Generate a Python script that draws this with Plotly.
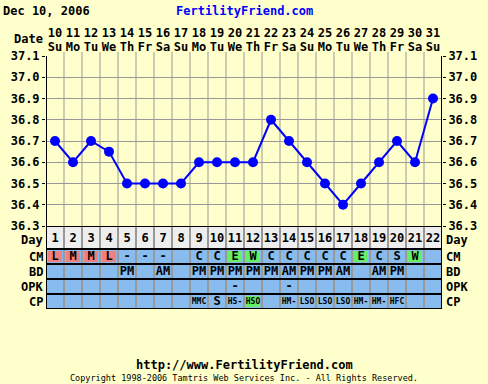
import plotly.graph_objects as go

# ---------------- data ----------------
DAYS = list(range(1, 23))
DATES = ["10", "11", "12", "13", "14", "15", "16", "17", "18", "19", "20",
         "21", "22", "23", "24", "25", "26", "27", "28", "29", "30", "31"]
WEEKDAYS = ["Su", "Mo", "Tu", "We", "Th", "Fr", "Sa", "Su", "Mo", "Tu", "We",
            "Th", "Fr", "Sa", "Su", "Mo", "Tu", "We", "Th", "Fr", "Sa", "Su"]
TEMPS = [36.7, 36.6, 36.7, 36.65, 36.5, 36.5, 36.5, 36.5, 36.6, 36.6, 36.6,
         36.6, 36.8, 36.7, 36.6, 36.5, 36.4, 36.5, 36.6, 36.7, 36.6, 36.9]
CM = ["L", "M", "M", "L", "-", "-", "-", "", "C", "C", "E",
      "W", "C", "C", "C", "C", "C", "E", "C", "S", "W", ""]
BD = ["", "", "", "", "PM", "", "AM", "", "PM", "PM", "PM",
      "PM", "PM", "AM", "PM", "PM", "AM", "", "AM", "PM", "", ""]
OPK = ["", "", "", "", "", "", "", "", "", "", "-",
       "", "", "-", "", "", "", "", "", "", "", ""]
CP = ["", "", "", "", "", "", "", "", "MMC", "S", "HS-",
      "HSO", "", "HM-", "LSO", "LSO", "LSO", "HM-", "HM-", "HFC", "", ""]
ROW_LABELS = ["Day", "CM", "BD", "OPK", "CP"]
TITLE_DATE = "Dec 10, 2006"
SITE = "FertilityFriend.com"
URL = "http://www.FertilityFriend.com"
COPYRIGHT = "Copyright 1998-2006 Tamtris Web Services Inc. - All Rights Reserved."

# ---------------- styles ----------------
BG = "#FFFFCC"
BLUE_CELL = "#88BBEE"
RED_CELL = "#F08080"
GREEN_CELL = "#66EE66"
DAY_CELL = "#EEEEEE"
GRID = "#999999"
FONT = "DejaVu Sans Mono"
HIGHLIGHT = {"L": RED_CELL, "M": RED_CELL, "E": GREEN_CELL, "W": GREEN_CELL, "HSO": GREEN_CELL}

W, H = 488, 384
ML, MR, MT, MB = 46, 46, 56, 75
PH = H - MT - MB  # plot height in px
# table rows (px heights), from top: Day, CM, BD, OPK, CP
ROW_H = [23, 15, 15, 15, 15]
TABLE_H = sum(ROW_H)
row_bounds = []
top = TABLE_H
for h in ROW_H:
    row_bounds.append((top - h, top))
    top -= h
row_centers = [(a + b) / 2 for a, b in row_bounds]


def py(p):
    """pixel y (from top of image) -> paper fraction"""
    return (H - MB - p) / PH


n = len(DAYS)
x_lo, x_hi = DAYS[0] - 0.5, DAYS[-1] + 0.5

fig = go.Figure()

fig.add_trace(go.Scatter(
    x=DAYS, y=TEMPS, mode="lines+markers",
    line=dict(color="#0000FF", width=2),
    marker=dict(color="#0000FF", size=10),
    xaxis="x", yaxis="y", hoverinfo="skip", showlegend=False, cliponaxis=False))
fig.add_trace(go.Scatter(
    x=DAYS, y=TEMPS, mode="markers", marker=dict(opacity=0),
    xaxis="x2", yaxis="y3", hoverinfo="skip", showlegend=False))

tx, ty, tt, ts = [], [], [], []
rows = [[str(d) for d in DAYS], CM, BD, OPK, CP]
for r, vals in enumerate(rows):
    for d, v in zip(DAYS, vals):
        if v:
            tx.append(d)
            ty.append(row_centers[r] - (1.5 if r == 0 else 0))
            tt.append(v)
            ts.append(8 if (r == 4 and len(v) == 3) else 12)
fig.add_trace(go.Scatter(
    x=tx, y=ty, text=tt, mode="text",
    textfont=dict(family=FONT, size=ts, color="black", weight="bold"),
    xaxis="x", yaxis="y2", hoverinfo="skip", showlegend=False, cliponaxis=False))

shapes = []
for r, (a, b) in enumerate(row_bounds):
    shapes.append(dict(type="rect", xref="x", yref="y2", x0=x_lo, x1=x_hi, y0=a, y1=b,
                       fillcolor=DAY_CELL if r == 0 else BLUE_CELL, line=dict(width=0), layer="below"))
inset_x = 2 / 18
for r, vals in [(1, CM), (4, CP)]:
    a, b = row_bounds[r]
    for d, v in zip(DAYS, vals):
        if v in HIGHLIGHT:
            shapes.append(dict(type="rect", xref="x", yref="y2",
                               x0=d - 0.5 + inset_x, x1=d + 0.5 - inset_x, y0=a + 2, y1=b - 2,
                               fillcolor=HIGHLIGHT[v], line=dict(width=0), layer="below"))
for k in range(1, n):
    xb = DAYS[0] - 0.5 + k
    shapes.append(dict(type="line", xref="x", yref="paper", x0=xb, x1=xb, y0=TABLE_H / PH, y1=1,
                       line=dict(color=GRID, width=1), layer="below"))
    shapes.append(dict(type="line", xref="x", yref="y2", x0=xb, x1=xb, y0=0, y1=TABLE_H,
                       line=dict(color=GRID, width=2), layer="below"))
    shapes.append(dict(type="line", xref="x", yref="paper", ysizemode="pixel", yanchor=1,
                       x0=xb, x1=xb, y0=0, y1=4, line=dict(color=GRID, width=1)))
for yv in [0] + [b for _, b in row_bounds]:
    shapes.append(dict(type="line", xref="x", yref="y2", x0=x_lo, x1=x_hi, y0=yv, y1=yv,
                       line=dict(color="black", width=2)))
for xb in (x_lo, x_hi):
    shapes.append(dict(type="line", xref="x", yref="paper", x0=xb, x1=xb, y0=0, y1=1,
                       line=dict(color="black", width=2)))

lab_font = dict(family=FONT, size=12, color="black", weight="bold")
annotations = []
for r, lab in enumerate(ROW_LABELS):
    ysh = -2 if r == 0 else 0
    annotations.append(dict(text=lab, xref="paper", yref="y2", x=0, y=row_centers[r],
                            xanchor="right", yanchor="middle", xshift=-1, yshift=ysh,
                            showarrow=False, font=lab_font))
    annotations.append(dict(text=lab, xref="paper", yref="y2", x=1, y=row_centers[r],
                            xanchor="left", yanchor="middle", xshift=2, yshift=ysh,
                            showarrow=False, font=lab_font))
annotations += [
    dict(text="Date", xref="paper", yref="paper", x=0, y=py(39), xanchor="right", yanchor="middle",
         xshift=-1, showarrow=False, font=lab_font),
    dict(text=TITLE_DATE, xref="paper", yref="paper", x=-ML / (W - ML - MR), y=py(11),
         xanchor="left", yanchor="middle", xshift=1, showarrow=False, font=lab_font),
    dict(text=SITE, xref="paper", yref="paper", x=0.5, y=py(11), xanchor="center", yanchor="middle",
         showarrow=False, font=dict(family=FONT, size=12, color="#0000FF", weight="bold")),
    dict(text=URL, xref="paper", yref="paper", x=0.5, y=py(365), xanchor="center", yanchor="middle",
         showarrow=False, font=lab_font),
    dict(text=COPYRIGHT, xref="paper", yref="paper", x=0.5, y=py(378), xanchor="center", yanchor="middle",
         showarrow=False, font=dict(family=FONT, size=8.5, color="black")),
]

tick_font = dict(family=FONT, size=12, color="black", weight="bold")
temp_domain = [TABLE_H / PH, 1]
fig.update_layout(
    width=W, height=H,
    margin=dict(l=ML, r=MR, t=MT, b=MB, pad=0, autoexpand=False),
    paper_bgcolor=BG, plot_bgcolor=BG,
    showlegend=False,
    xaxis=dict(domain=[0, 1], range=[x_lo, x_hi], anchor="y", side="top", automargin=False,
               tickmode="array", tickvals=DAYS, ticktext=WEEKDAYS,
               ticks="outside", ticklen=1, tickcolor="rgba(0,0,0,0)", ticklabelstandoff=-2,
               showgrid=False, zeroline=False, showline=False, tickfont=tick_font, fixedrange=True),
    xaxis2=dict(overlaying="x", matches="x", anchor="y", side="top", automargin=False,
                tickmode="array", tickvals=DAYS, ticktext=DATES,
                ticks="outside", ticklen=13, tickcolor="rgba(0,0,0,0)",
                showgrid=False, zeroline=False, showline=False, tickfont=tick_font, fixedrange=True),
    yaxis=dict(domain=temp_domain, range=[36.3, 37.1], anchor="x", automargin=False,
               tickmode="linear", tick0=36.3, dtick=0.1, tickformat=".1f",
               ticks="outside", ticklen=3, tickcolor="black",
               showgrid=True, gridcolor=GRID, gridwidth=1, zeroline=False, showline=False,
               tickfont=tick_font, fixedrange=True),
    yaxis3=dict(overlaying="y", matches="y", side="right", anchor="x", automargin=False,
                tickmode="linear", tick0=36.3, dtick=0.1, tickformat=".1f",
                ticks="outside", ticklen=3, tickcolor="black",
                showgrid=False, zeroline=False, showline=False, tickfont=tick_font, fixedrange=True),
    yaxis2=dict(domain=[0, TABLE_H / PH], range=[0, TABLE_H], anchor="x", visible=False,
                fixedrange=True),
    shapes=shapes,
    annotations=annotations,
)

fig.write_html("out.html", config={"displayModeBar": False},
               post_script="document.body.style.margin='0';document.body.style.overflow='hidden';")
